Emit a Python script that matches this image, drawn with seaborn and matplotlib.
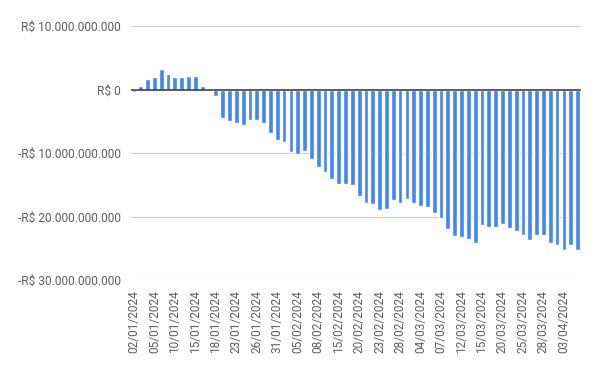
import matplotlib
matplotlib.use("Agg")
import matplotlib.pyplot as plt
import pandas as pd
import seaborn as sns
from matplotlib.ticker import FuncFormatter


# business days (B3 calendar: no carnival 12-13/02, no good friday 29/03)
dates = pd.bdate_range("2024-01-02", "2024-04-05")
dates = dates[~dates.isin(pd.to_datetime(["2024-02-12", "2024-02-13", "2024-03-29"]))]
date_labels = [d.strftime("%d/%m/%Y") for d in dates]

# balance in billions of R$
balance_bi = [
    -0.4, 0.6, 1.7, 1.9, 3.15, 2.5, 1.9, 1.9, 2.2, 2.2,
    0.6, 0.05, -1.0, -4.5, -4.9, -5.2, -5.6, -4.8, -4.8, -5.2,
    -6.8, -7.9, -8.2, -9.8, -10.1, -9.65, -10.9, -12.2, -13.0, -14.1,
    -14.9, -14.9, -15.0, -16.8, -17.9, -18.1, -18.9, -18.8, -17.4, -17.8,
    -17.3, -17.9, -18.3, -18.5, -19.5, -20.2, -21.9, -23.0, -23.2, -23.5,
    -24.2, -21.3, -21.6, -21.6, -21.1, -21.8, -22.3, -22.9, -23.7, -22.9,
    -22.9, -24.2, -24.5, -25.3, -24.5, -25.3,
]
y_ticks = [10e9, 0, -10e9, -20e9, -30e9]

df = pd.DataFrame({"data": date_labels, "saldo": [v * 1e9 for v in balance_bi]})


def brl(value, pos=None):
    txt = f"{abs(value):,.0f}".replace(",", ".")
    return f"-R$ {txt}" if value < 0 else f"R$ {txt}"


sns.set_style("white")
plt.rcParams["font.family"] = ["Roboto", "DejaVu Sans"]

fig = plt.figure(figsize=(6, 3.71), dpi=100)
ax = fig.add_axes([0.2175, 0.245, 0.7508, 0.685])

sns.barplot(data=df, x="data", y="saldo", color="#4285F4", width=0.7,
            saturation=1, ax=ax)

ax.set_ylim(-30e9, 10e9)
ax.set_xlim(-0.5, len(df) - 0.5)
ax.set_yticks(y_ticks)
ax.yaxis.set_major_formatter(FuncFormatter(brl))
ax.set_xticks(range(0, len(df), 3))
ax.set_xticklabels(date_labels[::3], rotation=90)
ax.grid(axis="y", color="#cccccc", linewidth=0.8)
ax.set_axisbelow(True)
ax.axhline(0, color="#333333", linewidth=1.1, zorder=3)

for s in ax.spines.values():
    s.set_visible(False)
ax.tick_params(axis="both", length=0, colors="#5f5f5f", labelsize=8.6)
ax.tick_params(axis="y", pad=7)
ax.tick_params(axis="x", pad=7)
ax.set_xlabel("")
ax.set_ylabel("")

fig.savefig("out.png", dpi=100)
